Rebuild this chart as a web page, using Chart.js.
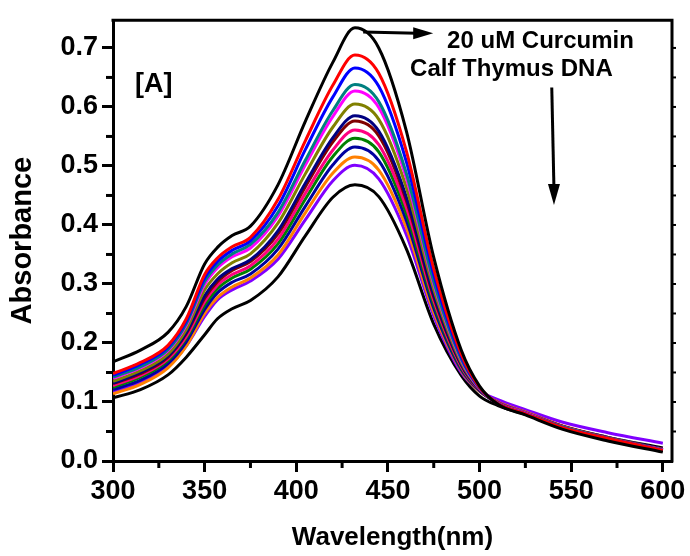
<!DOCTYPE html>
<html>
<head>
<meta charset="utf-8">
<script src="https://cdn.jsdelivr.net/npm/chart.js@4.4.1/dist/chart.umd.min.js"></script>
<style>
  html, body { margin: 0; padding: 0; background: #fff; }
  canvas { display: block; }
</style>
</head>
<body>
<canvas id="c" width="690" height="556"></canvas>
<script>
// ---- data ----
const wavelengths = [300,315,330,340,350,357,365,375,390,405,420,432,445,460,475,490,500,510,525,545,570,600];

const blackTop    = [0.168,0.188,0.218,0.262,0.334,0.362,0.382,0.398,0.468,0.576,0.676,0.734,0.700,0.560,0.345,0.188,0.127,0.096,0.078,0.054,0.034,0.015];
const red         = [0.148,0.167,0.196,0.241,0.316,0.344,0.363,0.379,0.443,0.543,0.637,0.688,0.657,0.526,0.326,0.181,0.125,0.097,0.080,0.057,0.038,0.018];
const blue        = [0.145,0.164,0.193,0.237,0.310,0.338,0.357,0.373,0.432,0.528,0.617,0.666,0.635,0.508,0.316,0.177,0.124,0.097,0.080,0.057,0.038,0.018];
const teal        = [0.142,0.160,0.189,0.233,0.304,0.332,0.351,0.367,0.421,0.510,0.594,0.638,0.609,0.488,0.304,0.173,0.124,0.097,0.080,0.058,0.038,0.018];
const magenta     = [0.140,0.158,0.187,0.230,0.299,0.327,0.346,0.361,0.415,0.502,0.584,0.627,0.599,0.480,0.300,0.171,0.123,0.098,0.081,0.058,0.038,0.019];
const olive       = [0.135,0.153,0.181,0.223,0.290,0.317,0.336,0.351,0.403,0.487,0.566,0.605,0.579,0.464,0.291,0.167,0.122,0.098,0.081,0.058,0.039,0.019];
const navy        = [0.132,0.150,0.178,0.218,0.280,0.308,0.326,0.341,0.390,0.471,0.548,0.585,0.559,0.448,0.282,0.164,0.121,0.098,0.081,0.058,0.039,0.019];
const maroon      = [0.131,0.148,0.176,0.216,0.276,0.304,0.323,0.338,0.385,0.465,0.541,0.576,0.551,0.442,0.278,0.163,0.121,0.098,0.081,0.059,0.039,0.019];
const pink        = [0.128,0.145,0.173,0.211,0.270,0.298,0.316,0.331,0.376,0.454,0.527,0.561,0.536,0.430,0.272,0.160,0.120,0.099,0.082,0.059,0.039,0.019];
const green       = [0.125,0.142,0.170,0.208,0.264,0.292,0.310,0.325,0.368,0.444,0.516,0.547,0.524,0.420,0.266,0.158,0.120,0.099,0.082,0.059,0.039,0.019];
const royal       = [0.121,0.137,0.165,0.202,0.257,0.285,0.303,0.317,0.359,0.432,0.502,0.532,0.509,0.408,0.259,0.155,0.119,0.099,0.082,0.059,0.040,0.020];
const orange      = [0.114,0.130,0.158,0.195,0.250,0.277,0.295,0.310,0.349,0.421,0.488,0.515,0.493,0.396,0.252,0.153,0.118,0.100,0.083,0.060,0.040,0.020];
const violet      = [0.118,0.133,0.160,0.195,0.245,0.273,0.290,0.305,0.342,0.409,0.475,0.501,0.478,0.384,0.246,0.150,0.119,0.104,0.087,0.066,0.048,0.030];
const blackBottom = [0.107,0.121,0.146,0.176,0.214,0.241,0.258,0.272,0.312,0.382,0.447,0.468,0.448,0.360,0.232,0.145,0.110,0.094,0.079,0.058,0.040,0.022];

const xTicks = [300,350,400,450,500,550,600];
const yTicks = [0.0,0.1,0.2,0.3,0.4,0.5,0.6,0.7];
const xMinor = [325,375,425,475,525,575];
const yMinor = [0.05,0.15,0.25,0.35,0.45,0.55,0.65];

const seriesList = [
  {name:'black top', values: blackTop, color:'#000000'},
  {name:'red', values: red, color:'#ff0000'},
  {name:'blue', values: blue, color:'#0000ff'},
  {name:'teal', values: teal, color:'#008080'},
  {name:'magenta', values: magenta, color:'#ff00ff'},
  {name:'olive', values: olive, color:'#808000'},
  {name:'navy', values: navy, color:'#000080'},
  {name:'maroon', values: maroon, color:'#800000'},
  {name:'pink', values: pink, color:'#ff0080'},
  {name:'green', values: green, color:'#008000'},
  {name:'royal', values: royal, color:'#0000a0'},
  {name:'orange', values: orange, color:'#ff8000'},
  {name:'violet', values: violet, color:'#8000ff'},
  {name:'black bottom', values: blackBottom, color:'#000000'}
];

const FONT = '"Liberation Sans", Arial, sans-serif';

const framePlugin = {
  id: 'frame',
  afterDraw(chart) {
    const {ctx, chartArea: a, scales: {x, y}} = chart;
    ctx.save();
    ctx.strokeStyle = '#000';
    ctx.lineCap = 'butt';
    // top & right borders
    ctx.lineWidth = 3;
    ctx.beginPath();
    ctx.moveTo(a.left - 1.5, a.top);
    ctx.lineTo(a.right, a.top);
    ctx.lineTo(a.right, a.bottom + 1.5);
    ctx.stroke();
    // minor ticks
    yMinor.forEach(v => {
      const py = y.getPixelForValue(v);
      ctx.beginPath(); ctx.moveTo(a.left, py); ctx.lineTo(a.left - 7, py); ctx.stroke();
    });
    xMinor.forEach(v => {
      const px = x.getPixelForValue(v);
      ctx.beginPath(); ctx.moveTo(px, a.bottom); ctx.lineTo(px, a.bottom + 7); ctx.stroke();
    });
    // small ticks on the right border
    ctx.lineWidth = 2;
    yTicks.concat(yMinor).forEach(v => {
      if (v <= 0) return;
      const py = y.getPixelForValue(v);
      ctx.beginPath(); ctx.moveTo(a.right, py); ctx.lineTo(a.right + 4, py); ctx.stroke();
    });

    // annotations
    ctx.fillStyle = '#000';
    ctx.textBaseline = 'alphabetic';
    ctx.textAlign = 'left';
    ctx.font = 'bold 27px ' + FONT;
    ctx.fillText('[A]', x.getPixelForValue(312), y.getPixelForValue(0.625));
    ctx.font = 'bold 24px ' + FONT;
    ctx.fillText('20 uM Curcumin', x.getPixelForValue(482.3), y.getPixelForValue(0.700));
    ctx.fillText('Calf Thymus DNA', x.getPixelForValue(462.1), y.getPixelForValue(0.652));

    // horizontal arrow
    const hx1 = x.getPixelForValue(436.5), hy1 = y.getPixelForValue(0.727);
    const hx2 = x.getPixelForValue(474.7), hy2 = y.getPixelForValue(0.725);
    ctx.lineWidth = 3;
    ctx.beginPath(); ctx.moveTo(hx1, hy1); ctx.lineTo(hx2 - 16, hy2); ctx.stroke();
    ctx.beginPath();
    ctx.moveTo(hx2, hy2);
    ctx.lineTo(hx2 - 20, hy2 - 6);
    ctx.lineTo(hx2 - 20, hy2 + 6);
    ctx.closePath(); ctx.fill();

    // vertical arrow
    const vx1 = x.getPixelForValue(539.4), vy1 = y.getPixelForValue(0.633);
    const vx2 = x.getPixelForValue(540.6), vy2 = y.getPixelForValue(0.434);
    ctx.beginPath(); ctx.moveTo(vx1, vy1); ctx.lineTo(vx2, vy2 - 16); ctx.stroke();
    ctx.beginPath();
    ctx.moveTo(vx2, vy2);
    ctx.lineTo(vx2 - 6, vy2 - 21);
    ctx.lineTo(vx2 + 6, vy2 - 21);
    ctx.closePath(); ctx.fill();
    ctx.restore();
  }
};

new Chart(document.getElementById('c'), {
  type: 'line',
  data: {
    datasets: seriesList.map(s => ({
      label: s.name,
      data: wavelengths.map((w, i) => ({x: w, y: s.values[i]})),
      borderColor: s.color,
      backgroundColor: s.color,
      borderWidth: 3,
      pointRadius: 0,
      fill: false,
      cubicInterpolationMode: 'monotone'
    }))
  },
  options: {
    responsive: false,
    devicePixelRatio: 1,
    animation: false,
    events: [],
    layout: { padding: { left: 0, right: 18, top: 15, bottom: 0 } },
    plugins: { legend: { display: false }, tooltip: { enabled: false } },
    scales: {
      x: {
        type: 'linear',
        min: 300, max: 605,
        afterBuildTicks: s => { s.ticks = xTicks.map(v => ({value: v})); },
        afterFit: s => { s.height = 95; },
        border: { display: true, width: 3, color: '#000' },
        grid: { display: true, drawOnChartArea: false, drawTicks: true, tickLength: 11, tickWidth: 3, tickColor: '#000' },
        ticks: { color: '#000', font: { family: FONT, size: 27, weight: 'bold' }, padding: 3, maxRotation: 0, autoSkip: false },
        title: { display: true, text: 'Wavelength(nm)', color: '#000', font: { family: FONT, size: 26, weight: 'bold' }, padding: { top: 0, bottom: 3 } }
      },
      y: {
        type: 'linear',
        min: 0, max: 0.747,
        afterBuildTicks: s => { s.ticks = yTicks.map(v => ({value: v})); },
        afterFit: s => { s.width = 113; },
        border: { display: true, width: 3, color: '#000' },
        grid: { display: true, drawOnChartArea: false, drawTicks: true, tickLength: 11, tickWidth: 3, tickColor: '#000' },
        ticks: { color: '#000', font: { family: FONT, size: 27, weight: 'bold' }, padding: 4, autoSkip: false,
                 callback: v => Number(v).toFixed(1) },
        title: { display: true, text: 'Absorbance', color: '#000', font: { family: FONT, size: 29, weight: 'bold' }, padding: { top: 6, bottom: 0 } }
      }
    }
  },
  plugins: [framePlugin]
});
</script>
</body>
</html>
